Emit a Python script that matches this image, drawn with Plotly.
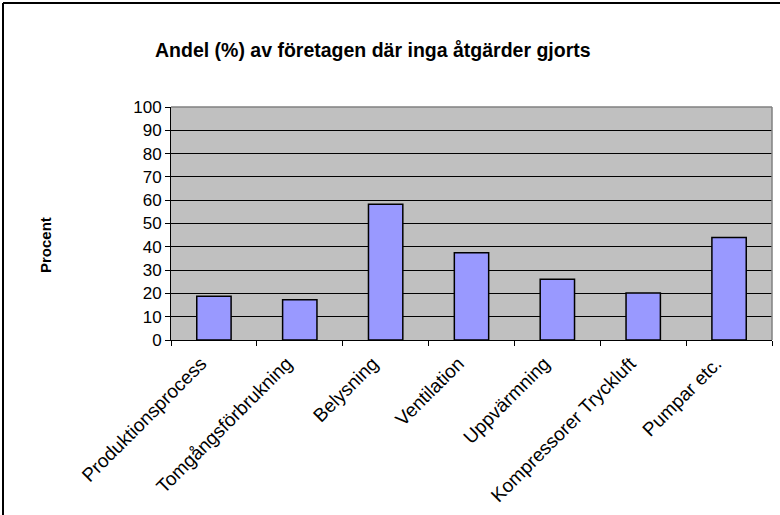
import plotly.graph_objects as go

categories = ["Produktionsprocess", "Tomgångsförbrukning", "Belysning", "Ventilation",
              "Uppvärmning", "Kompressorer Tryckluft", "Pumpar etc."]
values = [18.8, 17.3, 58.3, 37.4, 26.1, 20.2, 44.0]
y_ticks = [0, 10, 20, 30, 40, 50, 60, 70, 80, 90, 100]
title_text = "Andel (%) av företagen där inga åtgärder gjorts"
y_title = "Procent"

W, H = 780, 515
L, R, T, B = 171, 8, 107, 175
pw, ph = W - L - R, H - T - B

fig = go.Figure(go.Bar(
    x=categories, y=values,
    marker=dict(color="#9999FF", line=dict(color="black", width=1.5)),
))

def px_x(p):
    return (p - L) / pw

def px_y(p):
    return (H - B - p) / ph

fig.update_layout(
    width=W, height=H,
    margin=dict(l=L, r=R, t=T, b=B),
    paper_bgcolor="white",
    plot_bgcolor="#C0C0C0",
    bargap=0.6,
    showlegend=False,
    font=dict(family="Arial, Liberation Sans", color="black"),
    xaxis=dict(
        type="category", tickangle=-45, tickson="boundaries",
        ticks="outside", ticklen=5, tickcolor="black",
        showline=True, linecolor="black", linewidth=1,
        tickfont=dict(size=19), showgrid=False,
        ticklabelshift=-13, ticklabelstandoff=4,
    ),
    yaxis=dict(
        range=[0, 100], tickvals=y_ticks, ticks="outside", ticklen=5, tickcolor="black",
        showline=True, linecolor="black", linewidth=1, mirror=False,
        showgrid=True, gridcolor="black", gridwidth=1,
        tickfont=dict(size=17), zeroline=False,
    ),
    shapes=[
        dict(type="line", xref="paper", yref="paper", x0=0, x1=1, y0=1, y1=1,
             line=dict(color="#808080", width=1.5)),
        dict(type="line", xref="paper", yref="paper", x0=1, x1=1, y0=0, y1=1,
             line=dict(color="#808080", width=1.5)),
        dict(type="line", xref="paper", yref="paper", x0=px_x(3), x1=px_x(800), y0=px_y(3), y1=px_y(3),
             line=dict(color="black", width=2)),
        dict(type="line", xref="paper", yref="paper", x0=px_x(3), x1=px_x(3), y0=px_y(3), y1=px_y(530),
             line=dict(color="black", width=2)),
    ],
    annotations=[
        dict(text="<b>" + title_text + "</b>", xref="paper", yref="paper",
             x=px_x(373), y=px_y(50), showarrow=False, xanchor="center", yanchor="middle",
             font=dict(size=19.5)),
        dict(text="<b>" + y_title + "</b>", xref="paper", yref="paper",
             x=px_x(45), y=px_y(245), showarrow=False, textangle=-90,
             xanchor="center", yanchor="middle", font=dict(size=15)),
    ],
)

fig.write_html("out.html", config={"displayModeBar": False},
               post_script="document.body.style.margin='0';")
